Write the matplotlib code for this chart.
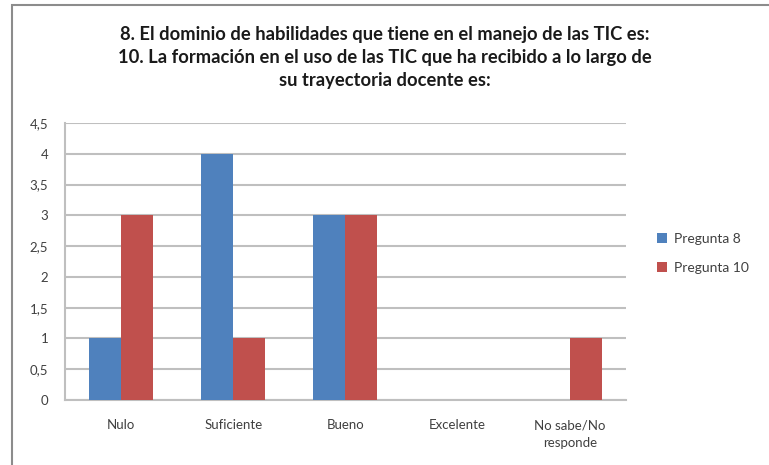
import numpy as np
import matplotlib.pyplot as plt
from matplotlib.patches import Rectangle

categorias = ['Nulo', 'Suficiente', 'Bueno', 'Excelente', 'No sabe/No\nresponde']
pregunta_8 = [1, 4, 3, 0, 0]
pregunta_10 = [3, 1, 3, 0, 1]
series = ['Pregunta 8', 'Pregunta 10']
titulo = ('8. El dominio de habilidades que tiene en el manejo de las TIC es:\n'
          '10. La formación en el uso de las TIC que ha recibido a lo largo de\n'
          'su trayectoria docente es:')

plt.rcParams['font.family'] = ['Lato', 'DejaVu Sans']

fig = plt.figure(figsize=(7.69, 4.65), dpi=100)
ax = fig.add_axes([0.0845, 0.1398, 0.7295, 0.5957])

x = np.arange(len(categorias))
w = 0.285
ax.bar(x - w / 2, pregunta_8, w, color='#4F81BD', label=series[0], zorder=3)
ax.bar(x + w / 2, pregunta_10, w, color='#C0504D', label=series[1], zorder=3)

ax.set_xlim(-0.5, len(categorias) - 0.5)
ax.set_ylim(0, 4.5)
yt = np.arange(0, 4.51, 0.5)
ax.set_yticks(yt)
ax.set_yticklabels([('%g' % v).replace('.', ',') for v in yt])
ax.set_xticks(x)
ax.set_xticklabels(categorias, linespacing=1.6)
ax.yaxis.grid(True, color='#BFBFBF', linewidth=1.5, zorder=0)
ax.tick_params(axis='both', length=0, labelsize=9.5, colors='#404040')
ax.tick_params(axis='y', pad=12)
ax.tick_params(axis='x', pad=14)
for s in ['top', 'right']:
    ax.spines[s].set_visible(False)
for s in ['left', 'bottom']:
    ax.spines[s].set_color('#BFBFBF')
    ax.spines[s].set_linewidth(1.5)

fig.text(0.5, 0.945, titulo, ha='center', va='top', fontsize=13.2,
         fontweight='bold', color='#1a1a1a', linespacing=1.45)

fig.legend(loc='center left', bbox_to_anchor=(0.838, 0.455), frameon=False,
           fontsize=10, handlelength=0.7, handleheight=0.7, labelspacing=1.2,
           handletextpad=0.5, labelcolor='#404040')

fig.patches.append(Rectangle((12 / 769, -0.1), 1.2, 1 - 5 / 465 + 0.1,
                             transform=fig.transFigure, fill=False,
                             edgecolor='#8C8C8C', linewidth=1.5))

fig.savefig('out.png', dpi=100)
